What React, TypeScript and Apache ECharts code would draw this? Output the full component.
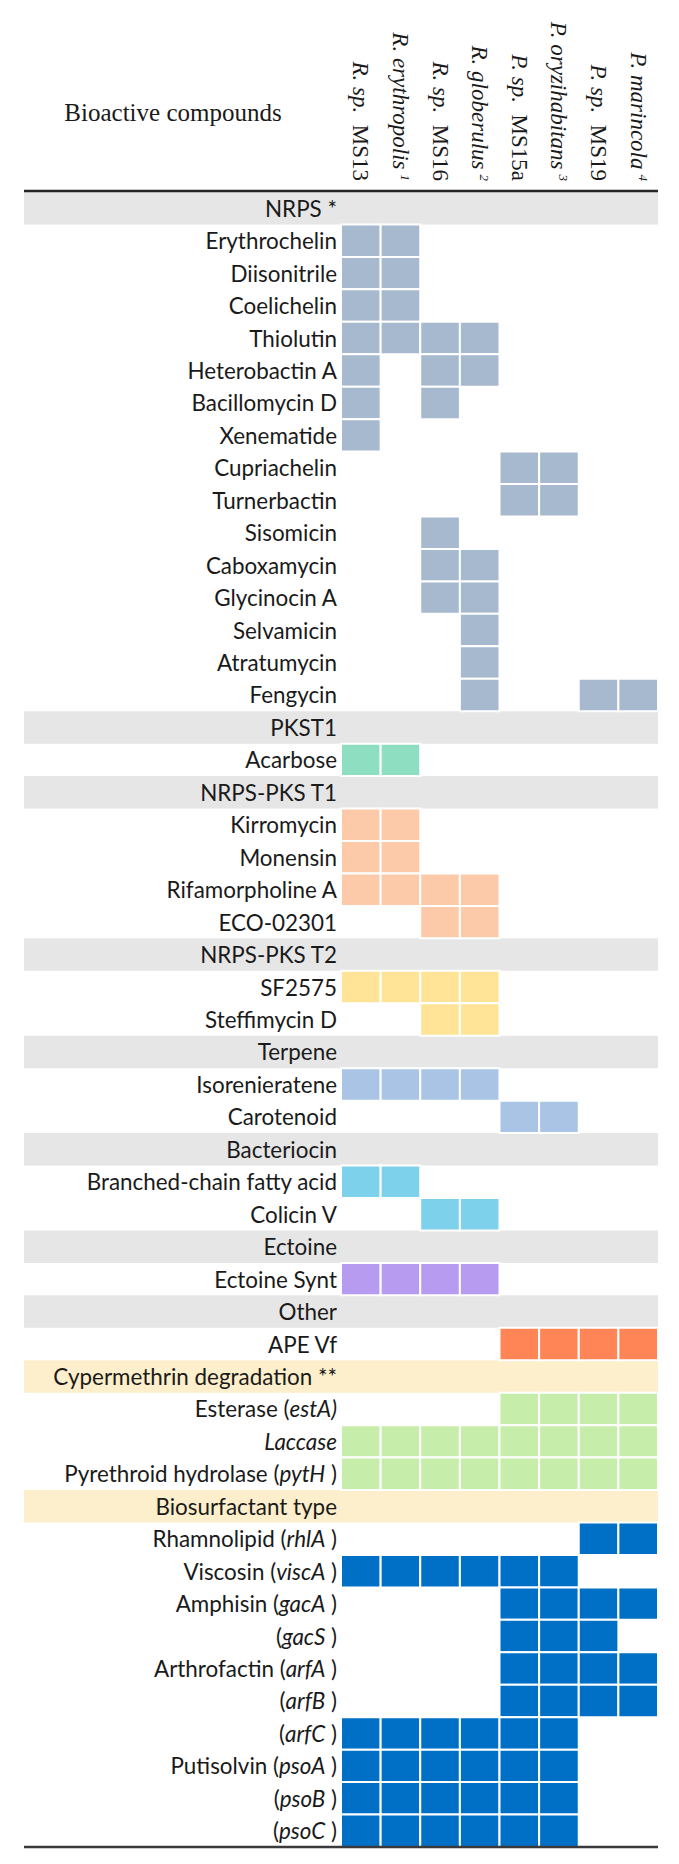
import React, { useEffect, useRef } from 'react';
import * as echarts from 'echarts';

// ---- Data ----
const strainGenus = ['R. sp.', 'R. erythropolis', 'R. sp.', 'R. globerulus', 'P. sp.', 'P. oryzihabitans', 'P. sp.', 'P. marincola'];
const strainName = ['MS13', '', 'MS16', '', 'MS15a', '', 'MS19', ''];
const strainNote = ['', '1', '', '2', '', '3', '', '4'];
const strains = strainGenus.map((g, i) => `${g} ${strainName[i]}${strainNote[i]}`.trim());

const rowLabels = [
  'NRPS *', 'Erythrochelin', 'Diisonitrile', 'Coelichelin', 'Thiolutin', 'Heterobactin A', 'Bacillomycin D', 'Xenematide',
  'Cupriachelin', 'Turnerbactin', 'Sisomicin', 'Caboxamycin', 'Glycinocin A', 'Selvamicin', 'Atratumycin', 'Fengycin',
  'PKST1', 'Acarbose',
  'NRPS-PKS T1', 'Kirromycin', 'Monensin', 'Rifamorpholine A', 'ECO-02301',
  'NRPS-PKS T2', 'SF2575', 'Steffimycin D',
  'Terpene', 'Isorenieratene', 'Carotenoid',
  'Bacteriocin', 'Branched-chain fatty acid', 'Colicin V',
  'Ectoine', 'Ectoine Synt',
  'Other', 'APE Vf',
  'Cypermethrin degradation **', 'Esterase (estA)', 'Laccase', 'Pyrethroid hydrolase (pytH )',
  'Biosurfactant type', 'Rhamnolipid (rhlA )', 'Viscosin (viscA )', 'Amphisin (gacA )', '(gacS )',
  'Arthrofactin (arfA )', '(arfB )', '(arfC )', 'Putisolvin (psoA )', '(psoB )', '(psoC )',
];

// presence per row, one digit per strain ('' for group header rows)
const presence = [
  '', '11000000', '11000000', '11000000', '11110000', '10110000', '10100000', '10000000',
  '00001100', '00001100', '00100000', '00110000', '00110000', '00010000', '00010000', '00010011',
  '', '11000000',
  '', '11000000', '11000000', '11110000', '00110000',
  '', '11110000', '00110000',
  '', '11110000', '00001100',
  '', '11000000', '00110000',
  '', '11110000',
  '', '00001111',
  '', '00001111', '11111111', '11111111',
  '', '00000011', '11111100', '00001111', '00001110',
  '00001111', '00001111', '11111100', '11111100', '11111100', '11111100',
];

const groupNames = ['NRPS *', 'PKST1', 'NRPS-PKS T1', 'NRPS-PKS T2', 'Terpene', 'Bacteriocin', 'Ectoine', 'Other', 'Cypermethrin degradation **', 'Biosurfactant type'];
const groupCellColors = ['#A6B9CF', '#8EDEC1', '#FCC9A9', '#FFE497', '#AAC4E6', '#7DD1EB', '#B69BF0', '#FF8456', '#C6EDA9', '#0070C6'];
const groupBandColors = ['#E6E6E6', '#E6E6E6', '#E6E6E6', '#E6E6E6', '#E6E6E6', '#E6E6E6', '#E6E6E6', '#E6E6E6', '#FDEFCB', '#FDEFCB'];
const italicTerms = ['estA)', 'Laccase', 'pytH', 'rhlA', 'viscA', 'gacA', 'gacS', 'arfA', 'arfB', 'arfC', 'psoA', 'psoB', 'psoC'];

// ---- Layout ----
const W = 679;
const H = 1864;
const TABLE_LEFT = 24;
const TABLE_RIGHT = 658;
const GRID_LEFT = 341;
const GRID_TOP = 192;
const GRID_BOTTOM = 1847;

function fitSize(text: string, target: number, font: string) {
  const ctx = document.createElement('canvas').getContext('2d');
  if (!ctx) return 22;
  ctx.font = font.replace('SIZE', '100px');
  const w = ctx.measureText(text).width;
  return w > 0 ? (100 * target) / w : 22;
}

export default function App() {
  const ref = useRef<HTMLDivElement>(null);

  useEffect(() => {
    if (!ref.current) return;
    const chart = echarts.init(ref.current, undefined, { renderer: 'svg' });

    const labelFont = 'Lato';
    const serif = '"Liberation Serif", "Times New Roman", serif';
    const labelSize = Math.min(24, fitSize('Branched-chain fatty acid', 251, `SIZE ${labelFont}`));

    const bandData: number[][] = [];
    const cellData: number[][] = [];
    let g = -1;
    rowLabels.forEach((lab, r) => {
      const gi = groupNames.indexOf(lab);
      if (gi >= 0) {
        g = gi;
        bandData.push([0, r, gi]);
        return;
      }
      const p = presence[r];
      for (let c = 0; c < p.length; c++) {
        if (p[c] === '1') cellData.push([c, r, g]);
      }
    });

    const yFormatter = (v: string) => {
      const t = italicTerms.find((x) => v.includes(x));
      if (!t) return `{n|${v}}`;
      const i = v.indexOf(t);
      const a = v.slice(0, i);
      const b = v.slice(i + t.length);
      return (a ? `{n|${a}}` : '') + `{i|${t}}` + (b ? `{n|${b}}` : '');
    };

    const xFormatter = (_v: string, idx: number) =>
      `{i|${strainGenus[idx]}}` +
      (strainName[idx] ? `{r|  ${strainName[idx]}}` : '') +
      (strainNote[idx] ? `{s|${strainNote[idx]}}` : '');

    chart.setOption({
      animation: false,
      backgroundColor: '#ffffff',
      grid: { left: GRID_LEFT, top: GRID_TOP, width: TABLE_RIGHT - GRID_LEFT, height: GRID_BOTTOM - GRID_TOP, containLabel: false },
      xAxis: {
        type: 'category',
        data: strains,
        position: 'top',
        axisLine: { show: false },
        axisTick: { show: false },
        splitLine: { show: false },
        axisLabel: {
          interval: 0,
          rotate: 90,
          margin: 11,
          formatter: xFormatter,
          rich: {
            i: { fontFamily: serif, fontStyle: 'italic', fontSize: 23, color: '#1a1a1a' },
            r: { fontFamily: serif, fontSize: 23, color: '#1a1a1a' },
            s: { fontFamily: serif, fontStyle: 'italic', fontSize: 13, color: '#1a1a1a', verticalAlign: 'top', padding: [0, 0, 0, 5] },
          },
        },
      },
      yAxis: {
        type: 'category',
        data: rowLabels,
        inverse: true,
        z: 5,
        axisLine: { show: false },
        axisTick: { show: false },
        splitLine: { show: false },
        axisLabel: {
          interval: 0,
          margin: 4,
          align: 'right',
          fontFamily: labelFont,
          fontSize: labelSize,
          color: '#1a1a1a',
          formatter: yFormatter,
          rich: {
            n: { fontFamily: labelFont, fontSize: labelSize, color: '#1a1a1a' },
            i: { fontFamily: labelFont, fontSize: labelSize, fontStyle: 'italic', color: '#1a1a1a' },
          },
        },
      },
      series: [
        {
          type: 'custom',
          name: 'bands',
          z: 1,
          clip: false,
          encode: { x: 0, y: 1 },
          data: bandData,
          renderItem: (_p: any, api: any) => {
            const c = api.coord([api.value(0), api.value(1)]);
            const s = api.size([1, 1]);
            return {
              type: 'rect',
              shape: { x: TABLE_LEFT, y: c[1] - s[1] / 2, width: TABLE_RIGHT - TABLE_LEFT, height: s[1] },
              style: { fill: groupBandColors[api.value(2)] },
            };
          },
        },
        {
          type: 'custom',
          name: 'cells',
          z: 2,
          encode: { x: 0, y: 1 },
          data: cellData,
          renderItem: (_p: any, api: any) => {
            const c = api.coord([api.value(0), api.value(1)]);
            const s = api.size([1, 1]);
            return {
              type: 'rect',
              shape: { x: c[0] - s[0] / 2, y: c[1] - s[1] / 2, width: s[0], height: s[1] },
              style: { fill: groupCellColors[api.value(2)], stroke: '#ffffff', lineWidth: 2 },
            };
          },
        },
      ],
      graphic: [
        {
          type: 'text',
          x: 173,
          y: 112,
          z: 10,
          style: { text: 'Bioactive compounds', fontFamily: serif, fontSize: 25, fill: '#1a1a1a', align: 'center', verticalAlign: 'middle' },
        },
        {
          type: 'line',
          z: 10,
          shape: { x1: TABLE_LEFT, y1: GRID_TOP - 1, x2: TABLE_RIGHT, y2: GRID_TOP - 1 },
          style: { stroke: '#262626', lineWidth: 2.5 },
        },
        {
          type: 'line',
          z: 10,
          shape: { x1: TABLE_LEFT, y1: GRID_BOTTOM, x2: TABLE_RIGHT, y2: GRID_BOTTOM },
          style: { stroke: '#3a3a3a', lineWidth: 2.5 },
        },
      ],
    });

    return () => chart.dispose();
  }, []);

  return (
    <div
      ref={ref}
      style={{ position: 'absolute', left: 0, top: 0, width: W, height: H, background: '#fff' }}
    />
  );
}
